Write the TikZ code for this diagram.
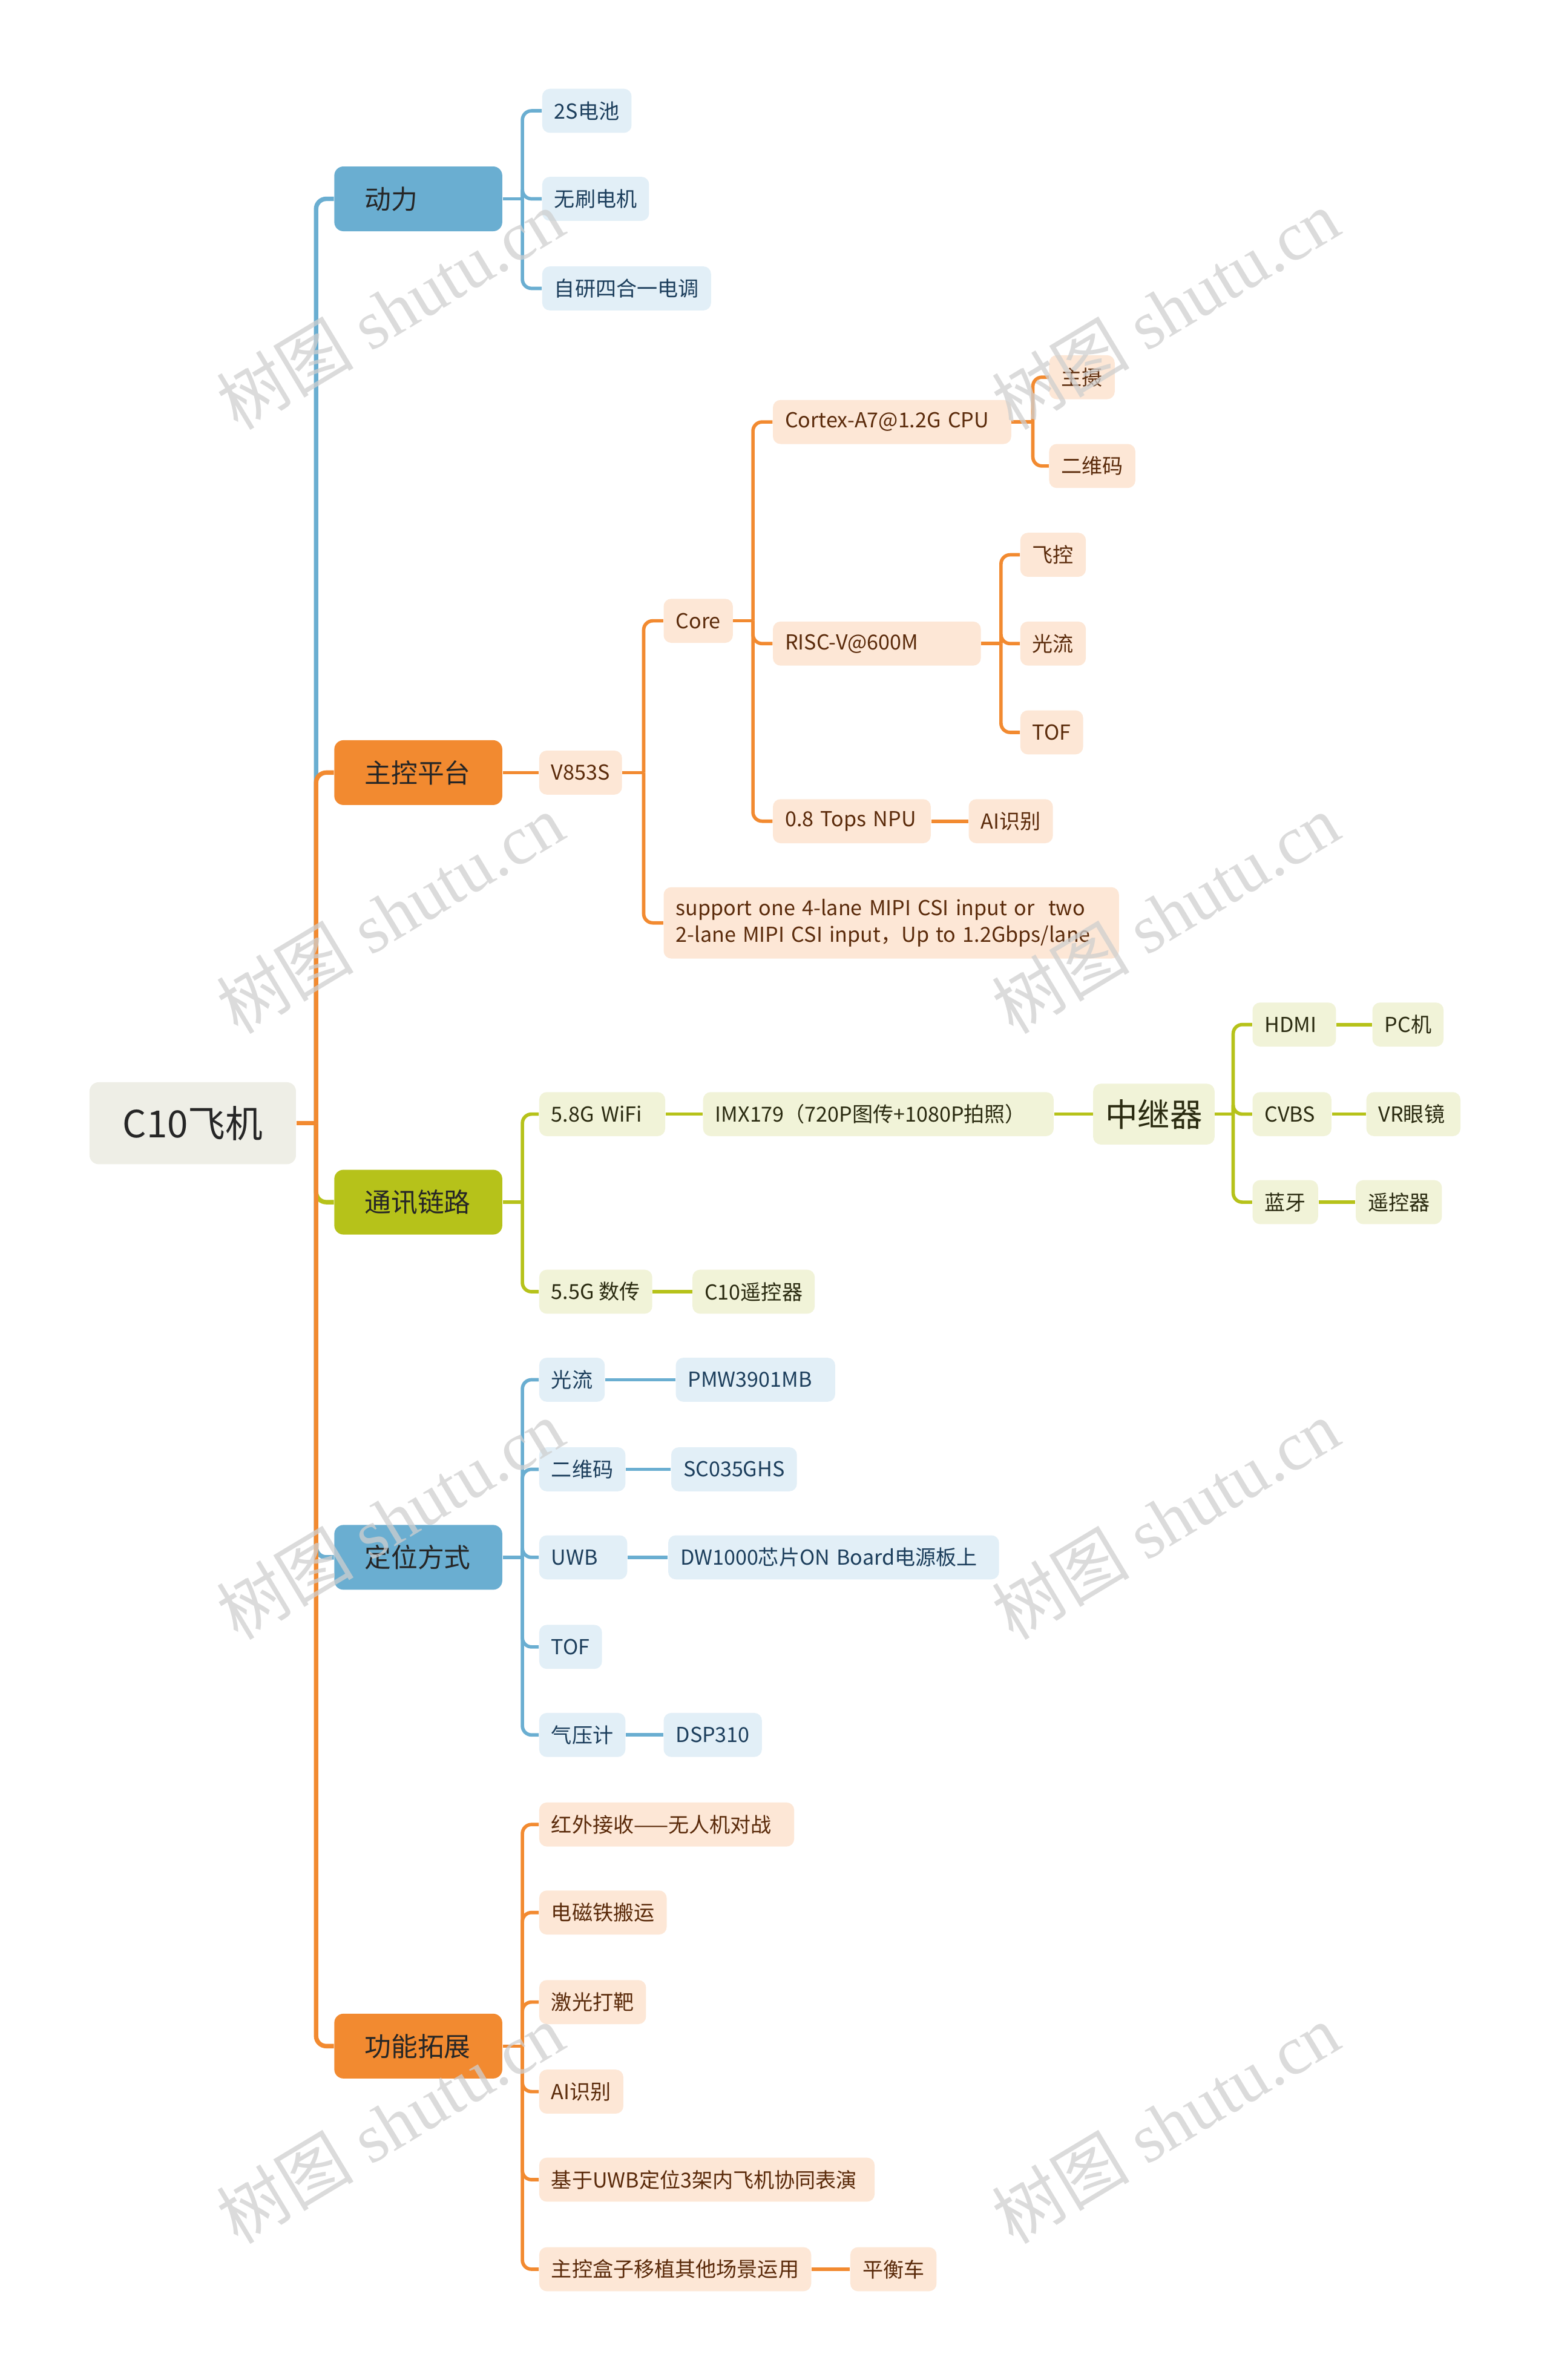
\documentclass[tikz,border=0pt]{standalone}
\usepackage{fontspec}
\setmainfont{Noto Sans CJK SC}
\newfontfamily\wmfont{Liberation Serif}
\newfontfamily\wmcjk{Noto Sans CJK SC}
\usetikzlibrary{calc}
\definecolor{bmain}{HTML}{6AAED1}
\definecolor{omain}{HTML}{F28A30}
\definecolor{gmain}{HTML}{B6C21A}
\definecolor{lblue}{HTML}{E2EFF7}
\definecolor{lorange}{HTML}{FDE7D6}
\definecolor{lolive}{HTML}{F1F3D8}
\definecolor{rootc}{HTML}{EEEEE6}
\definecolor{tblue}{HTML}{1C3E5C}
\definecolor{tbrown}{HTML}{5A2A0A}
\definecolor{tolive}{HTML}{2A2A10}
\definecolor{tdark}{HTML}{262626}
\definecolor{wmc}{HTML}{CFCFCF}
\tikzset{
  subnode/.style={rounded corners=3.75pt, inner ysep=0pt, minimum height=21.75pt, inner xsep=6pt, anchor=west, font=\fontsize{10.2}{12.5}\selectfont},
  lb/.style={subnode, fill=lblue, text=tblue},
  lo/.style={subnode, fill=lorange, text=tbrown},
  lg/.style={subnode, fill=lolive, text=tolive},
  tw/.style={text width=#1, align=left},
  mainnode/.style={rounded corners=4.5pt, minimum height=32pt, inner xsep=15pt, inner ysep=0pt, text width=53pt, align=left, anchor=west, font=\fontsize{13.1}{15}\selectfont, text=tdark},
  rootnode/.style={rounded corners=4.5pt, fill=rootc, minimum width=102pt, minimum height=40.5pt, font=\fontsize{18.5}{20}\selectfont, text=tdark},
  lnb/.style={draw=bmain, line width=1.7pt, rounded corners=4.5pt},
  lno/.style={draw=omain, line width=1.7pt, rounded corners=4.5pt},
  lng/.style={draw=gmain, line width=1.7pt, rounded corners=4.5pt},
  trunkb/.style={draw=bmain, line width=2.2pt, rounded corners=5pt},
  trunko/.style={draw=omain, line width=2.2pt, rounded corners=5pt},
  trunkg/.style={draw=gmain, line width=2.2pt, rounded corners=5pt},
  wm/.style={rotate=31, text=wmc, opacity=0.75, font=\wmfont\fontsize{34}{34}\selectfont}
}
\begin{document}
\begin{tikzpicture}[x=0.75pt,y=-0.75pt]
\fill[white] (0,0) rectangle (1021,1568);
\useasboundingbox (0,0) rectangle (1021,1568);

% root and main branches
\node[rootnode] (root) at (127,740) {C10飞机};
\node[mainnode, fill=bmain] (dl) at (220,131) {动力};
\node[mainnode, fill=omain] (zk) at (220,509) {主控平台};
\node[mainnode, fill=gmain] (tx) at (220,792) {通讯链路};
\node[mainnode, fill=bmain] (dw) at (220,1026) {定位方式};
\node[mainnode, fill=omain] (gn) at (220,1348) {功能拓展};

\coordinate (rt) at ($(root.east)+(13,0)$);
\draw[trunkb] (rt) |- (dl.west);
\draw[trunkg] (rt) |- (tx.west);
\draw[trunkb] (rt) |- (dw.west);
\draw[trunko] (rt) |- (zk.west);
\draw[trunko] (rt) |- (gn.west);
\draw[trunko] (root.east) -- (rt);

% 动力
\node[lb] (a1) at (357,73) {2S电池};
\node[lb] (a2) at (357,131) {无刷电机};
\node[lb] (a3) at (357,190) {自研四合一电调};
\coordinate (j1) at ($(dl.east)+(13,0)$);
\draw[lnb] (dl.east) -- (j1);
\draw[lnb] (j1) |- (a1.west);
\draw[lnb] (j1) |- (a2.west);
\draw[lnb] (j1) |- (a3.west);

% 主控平台
\node[lo] (v8) at (355,509) {V853S};
\draw[lno] (zk.east) -- (v8.west);
\node[lo] (core) at (437,409) {Core};
\node[lo, tw=213pt, minimum height=35.25pt, font=\fontsize{10.2}{13}\selectfont] (sup) at (437,608) {support one 4-lane MIPI CSI input or\ \ two\\2-lane MIPI CSI input，Up to 1.2Gbps/lane};
\coordinate (j2) at ($(v8.east)+(14,0)$);
\draw[lno] (v8.east) -- (j2);
\draw[lno] (j2) |- (core.west);
\draw[lno] (j2) |- (sup.west);

\node[lo, tw=105.75pt] (cpu) at (509,278) {Cortex-A7@1.2G CPU};
\node[lo, tw=90.75pt] (risc) at (509,424) {RISC-V@600M};
\node[lo, tw=66pt] (npu) at (509,541) {0.8 Tops NPU};
\coordinate (j3) at ($(core.east)+(13,0)$);
\draw[lno] (core.east) -- (j3);
\draw[lno] (j3) |- (cpu.west);
\draw[lno] (j3) |- (risc.west);
\draw[lno] (j3) |- (npu.west);

\node[lo] (zs) at (691,248.5) {主摄};
\node[lo] (ew) at (691,307) {二维码};
\coordinate (j4) at ($(cpu.east)+(14,0)$);
\draw[lno] (cpu.east) -- (j4);
\draw[lno] (j4) |- (zs.west);
\draw[lno] (j4) |- (ew.west);

\node[lo] (fk) at (672,365.5) {飞控};
\node[lo] (gl) at (672,424) {光流};
\node[lo] (tof1) at (672,482.5) {TOF};
\coordinate (j5) at ($(risc.east)+(13,0)$);
\draw[lno] (risc.east) -- (j5);
\draw[lno] (j5) |- (fk.west);
\draw[lno] (j5) |- (gl.west);
\draw[lno] (j5) |- (tof1.west);

\node[lo] (ai1) at (638,541) {AI识别};
\draw[lno] (npu.east) -- (ai1.west);

% 通讯链路
\node[lg, tw=50.25pt] (wifi) at (355,734) {5.8G WiFi};
\node[lg] (sg) at (355,851) {5.5G 数传};
\coordinate (j6) at ($(tx.east)+(13,0)$);
\draw[lng] (tx.east) -- (j6);
\draw[lng] (j6) |- (wifi.west);
\draw[lng] (j6) |- (sg.west);

\node[lg, tw=161.25pt] (imx) at (463,734) {IMX179（720P图传+1080P拍照）};
\draw[lng] (wifi.east) -- (imx.west);
\node[lg, minimum height=30pt, font=\fontsize{16}{18}\selectfont] (zj) at (720,734) {中继器};
\draw[lng] (imx.east) -- (zj.west);

\node[lg, tw=29.25pt] (hdmi) at (825,675) {HDMI};
\node[lg, tw=27pt] (cvbs) at (825,734) {CVBS};
\node[lg] (bt) at (825,792) {蓝牙};
\coordinate (j7) at ($(zj.east)+(12,0)$);
\draw[lng] (zj.east) -- (j7);
\draw[lng] (j7) |- (hdmi.west);
\draw[lng] (j7) |- (cvbs.west);
\draw[lng] (j7) |- (bt.west);

\node[lg] (pc) at (904,675) {PC机};
\node[lg, tw=34.5pt] (vr) at (900,734) {VR眼镜};
\node[lg] (yk) at (893,792) {遥控器};
\draw[lng] (hdmi.east) -- (pc.west);
\draw[lng] (cvbs.east) -- (vr.west);
\draw[lng] (bt.east) -- (yk.west);

\node[lg] (c10) at (456,851) {C10遥控器};
\draw[lng] (sg.east) -- (c10.west);

% 定位方式
\node[lb] (p1) at (355,909) {光流};
\node[lb] (p2) at (355,968) {二维码};
\node[lb, tw=31.5pt] (p3) at (355,1026) {UWB};
\node[lb] (p4) at (355,1085) {TOF};
\node[lb] (p5) at (355,1143) {气压计};
\coordinate (j8) at ($(dw.east)+(13,0)$);
\draw[lnb] (dw.east) -- (j8);
\foreach \n in {p1,p2,p3,p4,p5} \draw[lnb] (j8) |- (\n.west);

\node[lb, tw=66.75pt] (p1b) at (445,909) {PMW3901MB};
\node[lb] (p2b) at (442,968) {SC035GHS};
\node[lb, tw=151.5pt] (p3b) at (440,1026) {DW1000芯片ON Board电源板上};
\node[lb] (p5b) at (437,1143) {DSP310};
\draw[lnb] (p1.east) -- (p1b.west);
\draw[lnb] (p2.east) -- (p2b.west);
\draw[lnb] (p3.east) -- (p3b.west);
\draw[lnb] (p5.east) -- (p5b.west);

% 功能拓展
\node[lo, tw=114pt] (f1) at (355,1202) {红外接收——无人机对战};
\node[lo] (f2) at (355,1260) {电磁铁搬运};
\node[lo] (f3) at (355,1319) {激光打靶};
\node[lo] (f4) at (355,1378) {AI识别};
\node[lo, tw=153.75pt] (f5) at (355,1436) {基于UWB定位3架内飞机协同表演};
\node[lo] (f6) at (355,1495) {主控盒子移植其他场景运用};
\coordinate (j9) at ($(gn.east)+(13,0)$);
\draw[lno] (gn.east) -- (j9);
\foreach \n in {f1,f2,f3,f4,f5,f6} \draw[lno] (j9) |- (\n.west);
\node[lo] (f6b) at (560,1495) {平衡车};
\draw[lno] (f6.east) -- (f6b.west);

% watermarks
\node[wm] (w1) at (257,204) {{\wmcjk 树图} shutu.cn};
\node[wm] (w2) at (768,204) {{\wmcjk 树图} shutu.cn};
\node[wm] (w3) at (257,602) {{\wmcjk 树图} shutu.cn};
\node[wm] (w4) at (768,602) {{\wmcjk 树图} shutu.cn};
\node[wm] (w5) at (257,1001) {{\wmcjk 树图} shutu.cn};
\node[wm] (w6) at (768,1001) {{\wmcjk 树图} shutu.cn};
\node[wm] (w7) at (257,1399) {{\wmcjk 树图} shutu.cn};
\node[wm] (w8) at (768,1399) {{\wmcjk 树图} shutu.cn};
\end{tikzpicture}
\end{document}
